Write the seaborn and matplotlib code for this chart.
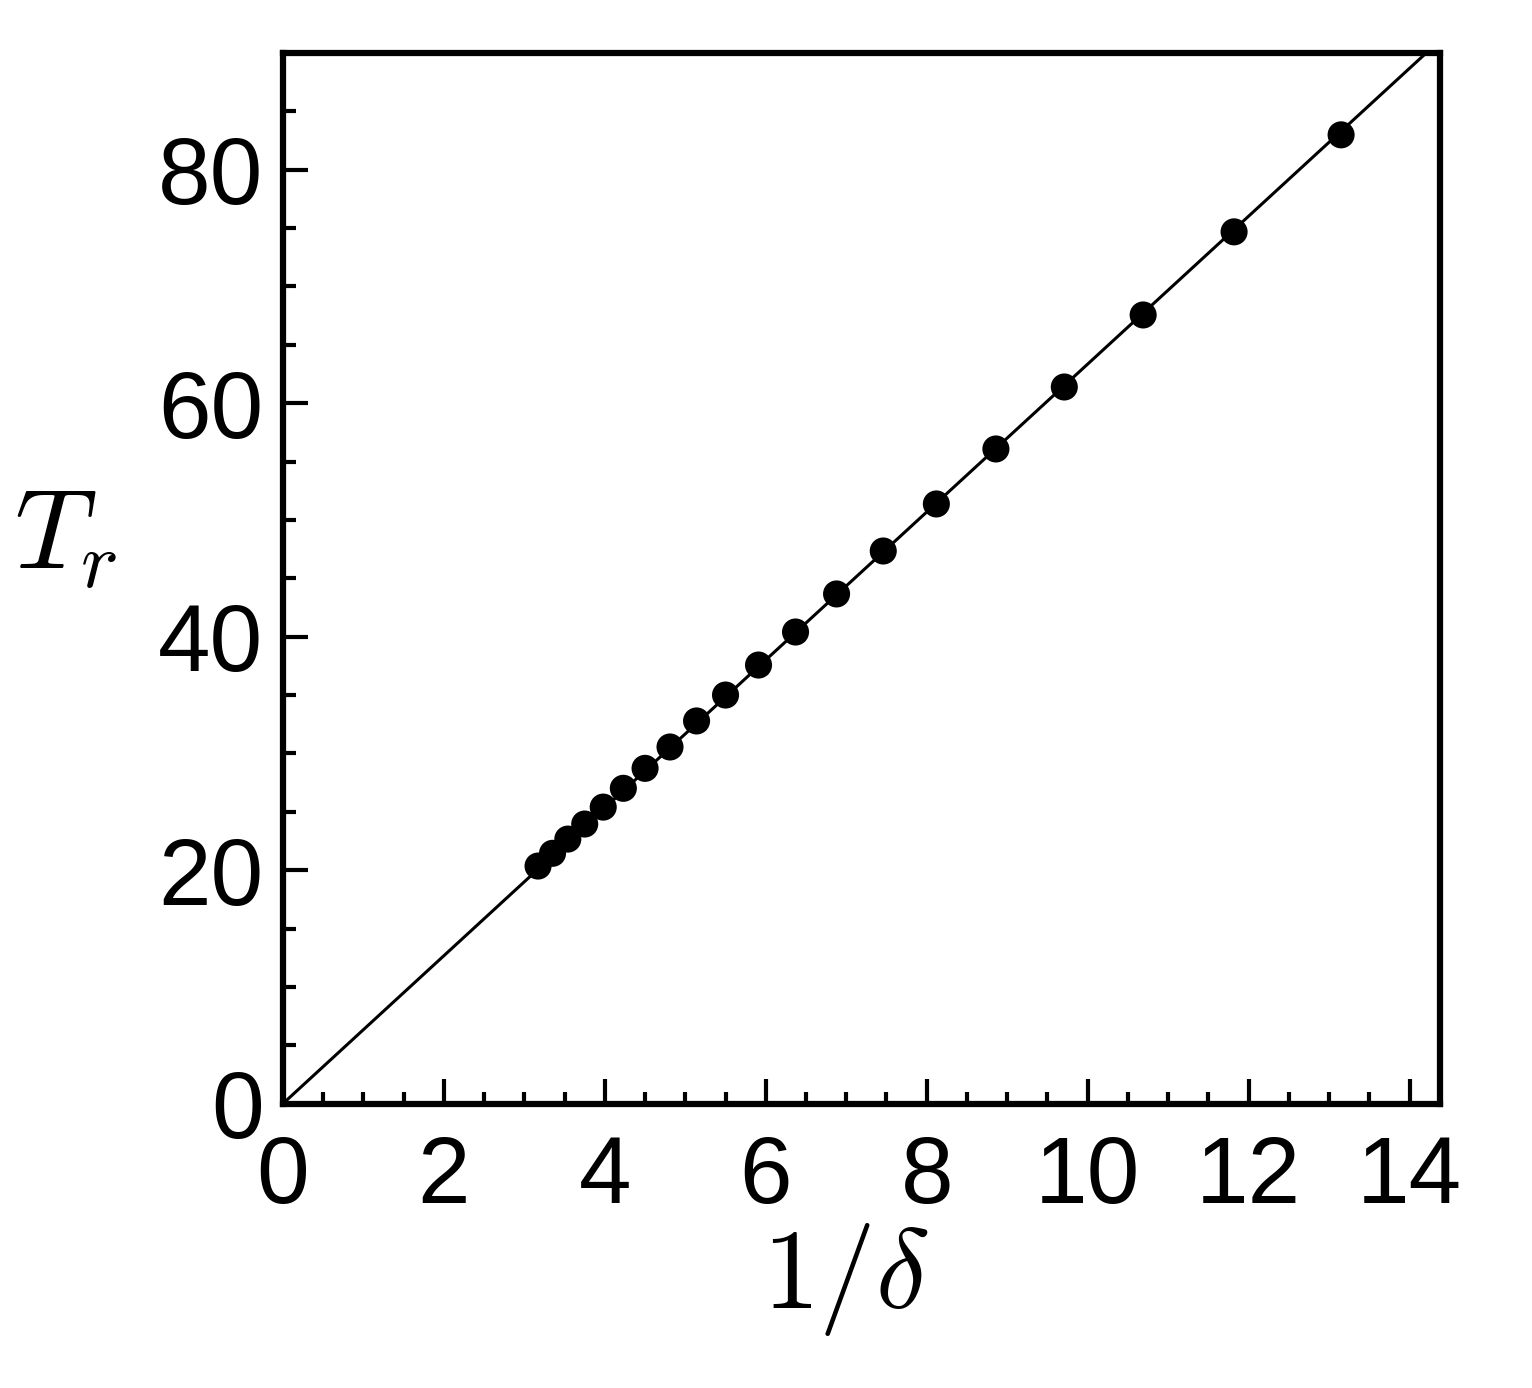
import numpy as np
import pandas as pd
import matplotlib
matplotlib.use("Agg")
import matplotlib.pyplot as plt
import seaborn as sns
from matplotlib.ticker import MultipleLocator

# values
inv_delta = [3.17, 3.35, 3.54, 3.75, 3.98, 4.23, 4.50, 4.81, 5.14, 5.50,
             5.91, 6.37, 6.88, 7.46, 8.12, 8.86, 9.71, 10.69, 11.82, 13.15]
t_r = [20.35, 21.44, 22.66, 23.95, 25.40, 27.01, 28.72, 30.55, 32.78, 35.00,
       37.57, 40.40, 43.66, 47.34, 51.37, 56.08, 61.39, 67.56, 74.68, 82.99]
x_ticks = [0, 2, 4, 6, 8, 10, 12, 14]
y_ticks = [0, 20, 40, 60, 80]

sns.set_theme(style="white")
plt.rcParams["font.family"] = ["Liberation Sans", "DejaVu Sans"]
plt.rcParams["mathtext.fontset"] = "cm"
plt.rcParams["text.color"] = "black"
plt.rcParams["axes.labelcolor"] = "black"
plt.rcParams["xtick.color"] = "black"
plt.rcParams["ytick.color"] = "black"

df = pd.DataFrame({"x": inv_delta, "y": t_r})
# linear fit through origin
xa, ya = np.array(inv_delta), np.array(t_r)
slope = (xa * ya).sum() / (xa * xa).sum()
fit = pd.DataFrame({"x": [0.0, 14.5]})
fit["y"] = slope * fit["x"]

fig = plt.figure(figsize=(15.32, 13.88), dpi=100)
ax = fig.add_axes([0.1847, 0.2049, 0.7553, 0.7569])

sns.lineplot(data=fit, x="x", y="y", color="black", lw=2.2, ax=ax)
sns.scatterplot(data=df, x="x", y="y", color="black", s=380, edgecolor="none", ax=ax, zorder=3)

ax.set_xlim(0, 14.38)
ax.set_ylim(0, 90)
ax.set_xticks(x_ticks)
ax.set_yticks(y_ticks)
ax.xaxis.set_minor_locator(MultipleLocator(0.5))
ax.yaxis.set_minor_locator(MultipleLocator(5))
ax.tick_params(which="both", direction="in", bottom=True, left=True, top=False, right=False,
               width=3, color="black", labelcolor="black")
ax.tick_params(which="major", length=18, labelsize=68)
ax.tick_params(which="minor", length=9)
ax.tick_params(axis="x", pad=22)
ax.tick_params(axis="y", pad=14)
for s in ax.spines.values():
    s.set_linewidth(4.5)
    s.set_color("black")

ax.set_xlabel(r"$1/\delta$", fontsize=82, va="center", color="black")
ax.set_ylabel(r"$T_r$", fontsize=82, rotation=0, va="center", ha="center", color="black")
ax.xaxis.set_label_coords(0.486, -0.167)
ax.yaxis.set_label_coords(-0.188, 0.537)

fig.savefig("out.png", dpi=100, facecolor="white")
